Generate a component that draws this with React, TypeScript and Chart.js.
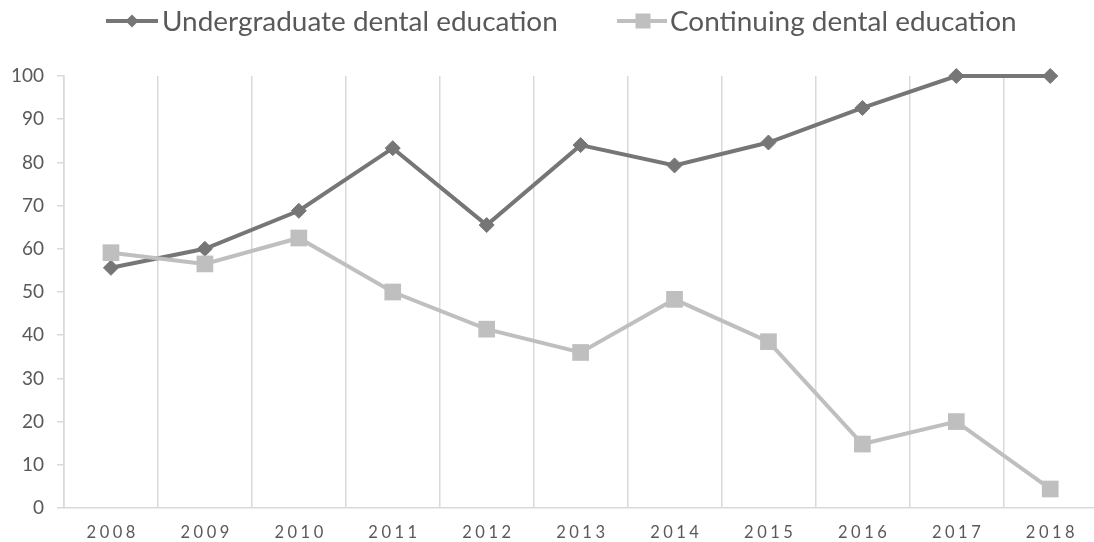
import React, { useEffect, useRef } from "react";
import { Chart, registerables } from "chart.js";

Chart.register(...registerables);

const years = ["2008", "2009", "2010", "2011", "2012", "2013", "2014", "2015", "2016", "2017", "2018"];
const undergraduate = [55.6, 60.0, 68.8, 83.3, 65.5, 84.0, 79.3, 84.6, 92.6, 100, 100];
const continuing = [59.1, 56.5, 62.5, 50.0, 41.4, 36.0, 48.3, 38.5, 14.8, 20.0, 4.4];
const seriesNames = ["Undergraduate dental education", "Continuing dental education"];
const seriesColors = ["#767676", "#BFBFBF"];

const TEXT = "#595959";
const GRID = "#D9D9D9";
const FONT = "Lato, 'Open Sans', sans-serif";

function drawMarker(ctx: CanvasRenderingContext2D, style: string, x: number, y: number, r: number, color: string) {
  ctx.save();
  ctx.fillStyle = color;
  ctx.beginPath();
  if (style === "rectRot") {
    ctx.moveTo(x - r, y);
    ctx.lineTo(x, y - r);
    ctx.lineTo(x + r, y);
    ctx.lineTo(x, y + r);
    ctx.closePath();
  } else {
    ctx.rect(x - r, y - r, 2 * r, 2 * r);
  }
  ctx.fill();
  ctx.restore();
}

const customPlugin = {
  id: "customDraw",
  afterDraw(chart: any) {
    const ctx: CanvasRenderingContext2D = chart.ctx;
    // legend
    ctx.save();
    const targetW = 396;
    ctx.font = `100px ${FONT}`;
    const w100 = ctx.measureText(seriesNames[0]).width;
    const size = Math.min(28, (100 * targetW) / w100);
    ctx.font = `${size}px ${FONT}`;
    ctx.fillStyle = TEXT;
    ctx.textBaseline = "middle";
    ctx.textAlign = "left";
    const items = [
      { x0: 106, x1: 158, mx: 132, tx: 162, style: "rectRot", r: 6.5 },
      { x0: 617, x1: 667, mx: 643, tx: 670, style: "rect", r: 7.5 },
    ];
    const ly = 21;
    items.forEach((it, i) => {
      ctx.strokeStyle = seriesColors[i];
      ctx.lineWidth = 4;
      ctx.beginPath();
      ctx.moveTo(it.x0, ly);
      ctx.lineTo(it.x1, ly);
      ctx.stroke();
      drawMarker(ctx, it.style, it.mx, ly, it.r, seriesColors[i]);
      ctx.fillStyle = TEXT;
      ctx.fillText(seriesNames[i], it.tx, ly + 1);
    });
    ctx.restore();

    // x labels with letter spacing
    const xs = chart.scales.x;
    ctx.save();
    ctx.font = `16.5px ${FONT}`;
    (ctx as any).letterSpacing = "3.5px";
    ctx.fillStyle = TEXT;
    ctx.textBaseline = "middle";
    ctx.textAlign = "left";
    years.forEach((lab, i) => {
      const x = xs.getPixelForTick(i);
      const w = ctx.measureText(lab).width - 3.5;
      ctx.fillText(lab, x - w / 2, 533);
    });
    ctx.restore();
  },
};

export default function App() {
  const ref = useRef<HTMLCanvasElement>(null);
  useEffect(() => {
    if (!ref.current) return;
    const chart = new Chart(ref.current, {
      type: "line",
      data: {
        labels: years,
        datasets: [
          {
            label: seriesNames[0],
            data: undergraduate,
            borderColor: seriesColors[0],
            backgroundColor: seriesColors[0],
            pointBackgroundColor: seriesColors[0],
            pointBorderColor: seriesColors[0],
            borderWidth: 4,
            pointStyle: "rectRot",
            pointRadius: 7.5,
            pointBorderWidth: 1,
            tension: 0,
            clip: false,
            order: 1,
          },
          {
            label: seriesNames[1],
            data: continuing,
            borderColor: seriesColors[1],
            backgroundColor: seriesColors[1],
            pointBackgroundColor: seriesColors[1],
            pointBorderColor: seriesColors[1],
            borderWidth: 4,
            pointStyle: "rect",
            pointRadius: 11.8,
            pointBorderWidth: 0,
            tension: 0,
            clip: false,
            order: 0,
          },
        ],
      },
      options: {
        responsive: false,
        animation: false,
        devicePixelRatio: 1,
        layout: { padding: { top: 76, right: 2, left: 0, bottom: 0 } },
        plugins: { legend: { display: false }, tooltip: { enabled: false } },
        scales: {
          x: {
            offset: true,
            grid: { offset: true, drawTicks: false, color: GRID, lineWidth: 1.5 },
            border: { display: true, color: GRID, width: 1.5 },
            ticks: { display: false },
            afterFit: (s: any) => {
              s.height = 34;
              s.paddingLeft = 0;
              s.paddingRight = 0;
            },
          },
          y: {
            min: 0,
            max: 100,
            ticks: {
              stepSize: 10,
              color: TEXT,
              font: { family: FONT, size: 19 },
              padding: 13,
            },
            grid: { drawOnChartArea: false, drawTicks: true, tickLength: 7, color: GRID, lineWidth: 1.5 },
            border: { display: true, color: GRID, width: 1.5 },
            afterFit: (s: any) => {
              s.width = 64;
              s.paddingTop = 0;
              s.paddingBottom = 0;
            },
          },
        },
      },
      plugins: [customPlugin],
    } as any);
    return () => chart.destroy();
  }, []);
  return (
    <div style={{ position: "absolute", left: 0, top: 0, width: 1094, height: 542, overflow: "hidden", background: "#fff" }}>
      <canvas ref={ref} width={1109} height={542} style={{ display: "block" }} />
    </div>
  );
}
